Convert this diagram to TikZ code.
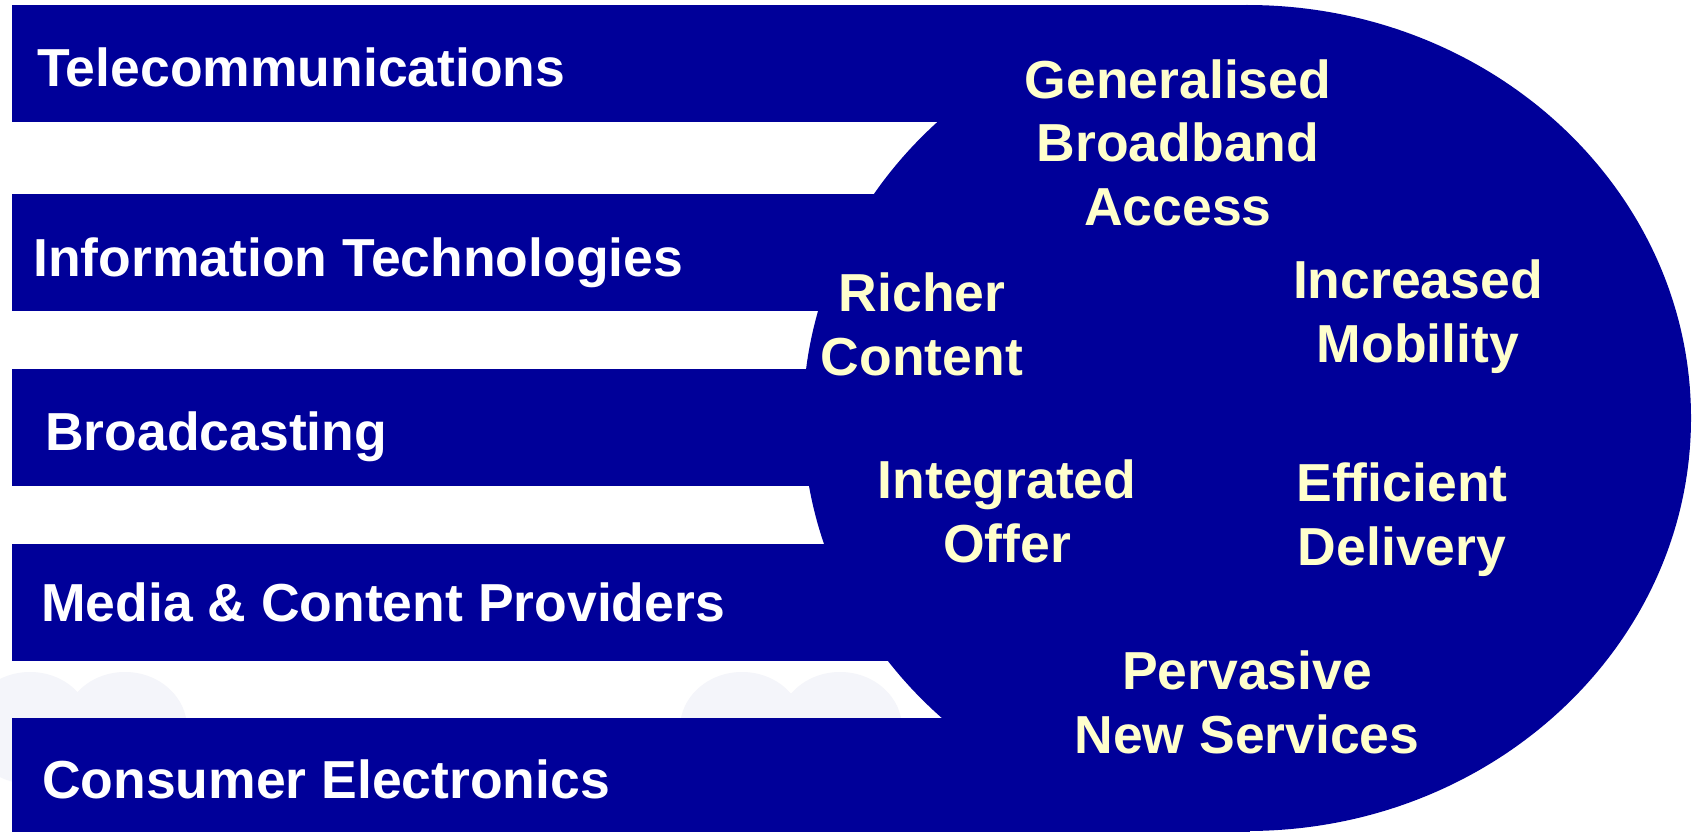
\documentclass[tikz,border=0pt]{standalone}
\usepackage{fontspec}
\setmainfont{Liberation Sans}
\definecolor{dblue}{RGB}{0,0,153}
\definecolor{lyellow}{RGB}{255,255,204}
\definecolor{cloudgray}{RGB}{244,245,250}
\begin{document}
\begin{tikzpicture}[x=1pt,y=-1pt,
  bar/.style={fill=dblue},
  cloudbump/.style={fill=cloudgray},
  lab/.style={font=\bfseries\fontsize{53.5}{63.5}\selectfont, text=white, inner sep=0pt, anchor=base west},
  hub/.style={font=\bfseries\fontsize{53.5}{63.5}\selectfont, text=lyellow, inner sep=0pt, align=center, anchor=base}]
\useasboundingbox (0,0) rectangle (1693,832);
\fill[white] (0,0) rectangle (1693,832);
% faint background clouds
\fill[cloudbump] (30,728) ellipse [x radius=62pt, y radius=56pt];
\fill[cloudbump] (125,728) ellipse [x radius=62pt, y radius=56pt];
\fill[cloudbump] (742,728) ellipse [x radius=62pt, y radius=56pt];
\fill[cloudbump] (840,728) ellipse [x radius=62pt, y radius=56pt];
% bars
\fill[bar] (12,5) rectangle (1250,122);
\fill[bar] (12,194) rectangle (1250,311);
\fill[bar] (12,369) rectangle (1250,486);
\fill[bar] (12,544) rectangle (1250,661);
\fill[bar] (12,718) rectangle (1250,832);
% big half ellipse
\fill[bar] (1247,418) ellipse [x radius=444pt, y radius=413pt];
% bar labels
\node[lab] (tel) at (37,87) {Telecommunications};
\node[lab] (it) at (33,276) {Information Technologies};
\node[lab] (bc) at (45,450) {Broadcasting};
\node[lab] (mcp) at (41,621) {Media \& Content Providers};
\node[lab] (ce) at (42,798) {Consumer Electronics};
% hub labels (anchor = baseline of last line)
\node[hub] (gba) at (1178,225) {Generalised\\Broadband\\Access};
\node[hub] (rc) at (922,375) {Richer\\Content};
\node[hub] (im) at (1418,362) {Increased\\Mobility};
\node[hub] (io) at (1007,562) {Integrated\\Offer};
\node[hub] (ed) at (1402,565) {Efficient\\Delivery};
\node[hub] (pns) at (1247,753) {Pervasive\\New Services};
\end{tikzpicture}
\end{document}
